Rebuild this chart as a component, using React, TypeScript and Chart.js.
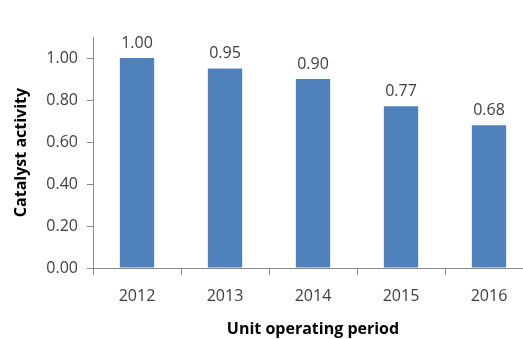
import React, { useEffect, useRef } from "react";
import { Chart, registerables } from "chart.js";

Chart.register(...registerables);

const years = ["2012", "2013", "2014", "2015", "2016"];
const activity = [1.0, 0.95, 0.9, 0.77, 0.68];
const yTitle = "Catalyst activity";
const xTitle = "Unit operating period";

const FONT = "'Open Sans', 'Noto Sans', sans-serif";
const AXIS_GREY = "#8c8c8c";
const TEXT_GREY = "#404040";
const FONT_SIZE = 16;

// Writes each bar's value above it
const valueLabels = {
  id: "valueLabels",
  afterDatasetsDraw(chart: any) {
    const { ctx } = chart;
    const meta = chart.getDatasetMeta(0);
    ctx.save();
    ctx.font = `${FONT_SIZE}px ${FONT}`;
    ctx.fillStyle = TEXT_GREY;
    ctx.textAlign = "center";
    ctx.textBaseline = "middle";
    meta.data.forEach((bar: any, i: number) => {
      const v = chart.data.datasets[0].data[i] as number;
      ctx.fillText(v.toFixed(2), bar.x, bar.y - 15);
    });
    ctx.restore();
  },
};

export default function App() {
  const canvasRef = useRef<HTMLCanvasElement>(null);

  useEffect(() => {
    const chart = new Chart(canvasRef.current!, {
      type: "bar",
      data: {
        labels: years,
        datasets: [
          {
            data: activity,
            backgroundColor: "#4f81bd",
            borderWidth: 0,
            barPercentage: 0.39,
            categoryPercentage: 1,
          },
        ],
      },
      options: {
        animation: false,
        responsive: false,
        layout: { padding: { top: 37, right: 12, left: 0, bottom: 0 } },
        plugins: { legend: { display: false }, tooltip: { enabled: false } },
        scales: {
          x: {
            offset: true,
            grid: {
              offset: true,
              drawOnChartArea: false,
              drawTicks: true,
              tickLength: 7,
              color: AXIS_GREY,
            },
            border: { color: AXIS_GREY },
            ticks: {
              color: TEXT_GREY,
              font: { family: FONT, size: FONT_SIZE },
              padding: 12,
              maxRotation: 0,
            },
            title: {
              display: true,
              text: xTitle,
              color: "#000000",
              font: { family: FONT, size: FONT_SIZE, weight: "bold" },
              padding: { top: 0, bottom: 0 },
            },
            afterFit(scale: any) {
              scale.height = 71;
            },
          },
          y: {
            min: 0,
            max: 1.1,
            grid: {
              drawOnChartArea: false,
              drawTicks: true,
              tickLength: 6,
              color: AXIS_GREY,
            },
            border: { color: AXIS_GREY },
            ticks: {
              stepSize: 0.2,
              color: TEXT_GREY,
              font: { family: FONT, size: FONT_SIZE },
              padding: 9,
              callback: (v: any) => Number(v).toFixed(2),
            },
            afterBuildTicks(scale: any) {
              scale.ticks = scale.ticks.filter(
                (t: any) => Math.abs(t.value * 5 - Math.round(t.value * 5)) < 1e-6
              );
            },
            title: {
              display: true,
              text: yTitle,
              color: "#000000",
              font: { family: FONT, size: FONT_SIZE, weight: "bold" },
              padding: { top: 12, bottom: 0 },
            },
            afterFit(scale: any) {
              scale.width = 93;
            },
          },
        },
      },
      plugins: [valueLabels],
    });
    return () => chart.destroy();
  }, []);

  return (
    <div
      style={{
        position: "fixed",
        left: 0,
        top: 0,
        width: 523,
        height: 339,
        overflow: "hidden",
        background: "#ffffff",
      }}
    >
      <canvas
        ref={canvasRef}
        width={545}
        height={339}
        style={{ display: "block", width: 545, height: 339 }}
      />
    </div>
  );
}
